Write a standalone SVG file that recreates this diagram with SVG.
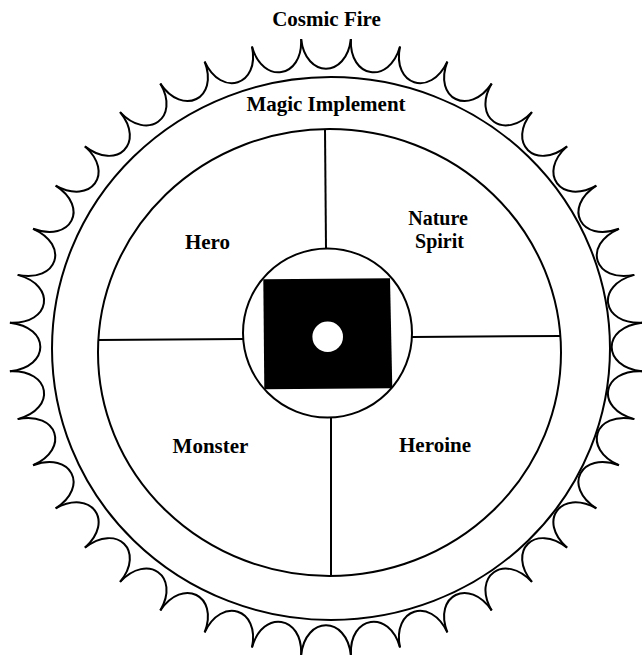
<svg xmlns="http://www.w3.org/2000/svg" xmlns:xlink="http://www.w3.org/1999/xlink" width="642" height="657" viewBox="0 0 642 657">
<style>
.ln{fill:none;stroke:#000;stroke-width:2;stroke-linejoin:round}
.lbl{font-family:"Liberation Serif","Times New Roman",serif;font-weight:bold;font-size:21px;fill:#000;text-anchor:middle}
</style>
<defs>
<path id="scallop" d="M-24.56,-312.03 C-20,-272 20,-272 24.56,-312.03"/>
</defs>
<rect width="642" height="657" fill="#fff"/>
<g id="cosmic-fire">
<g transform="translate(326,347) scale(1.013,0.987)" class="ln">
<use xlink:href="#scallop" transform="rotate(0)"/>
<use xlink:href="#scallop" transform="rotate(9)"/>
<use xlink:href="#scallop" transform="rotate(18)"/>
<use xlink:href="#scallop" transform="rotate(27)"/>
<use xlink:href="#scallop" transform="rotate(36)"/>
<use xlink:href="#scallop" transform="rotate(45)"/>
<use xlink:href="#scallop" transform="rotate(54)"/>
<use xlink:href="#scallop" transform="rotate(63)"/>
<use xlink:href="#scallop" transform="rotate(72)"/>
<use xlink:href="#scallop" transform="rotate(81)"/>
<use xlink:href="#scallop" transform="rotate(90)"/>
<use xlink:href="#scallop" transform="rotate(99)"/>
<use xlink:href="#scallop" transform="rotate(108)"/>
<use xlink:href="#scallop" transform="rotate(117)"/>
<use xlink:href="#scallop" transform="rotate(126)"/>
<use xlink:href="#scallop" transform="rotate(135)"/>
<use xlink:href="#scallop" transform="rotate(144)"/>
<use xlink:href="#scallop" transform="rotate(153)"/>
<use xlink:href="#scallop" transform="rotate(162)"/>
<use xlink:href="#scallop" transform="rotate(171)"/>
<use xlink:href="#scallop" transform="rotate(180)"/>
<use xlink:href="#scallop" transform="rotate(189)"/>
<use xlink:href="#scallop" transform="rotate(198)"/>
<use xlink:href="#scallop" transform="rotate(207)"/>
<use xlink:href="#scallop" transform="rotate(216)"/>
<use xlink:href="#scallop" transform="rotate(225)"/>
<use xlink:href="#scallop" transform="rotate(234)"/>
<use xlink:href="#scallop" transform="rotate(243)"/>
<use xlink:href="#scallop" transform="rotate(252)"/>
<use xlink:href="#scallop" transform="rotate(261)"/>
<use xlink:href="#scallop" transform="rotate(270)"/>
<use xlink:href="#scallop" transform="rotate(279)"/>
<use xlink:href="#scallop" transform="rotate(288)"/>
<use xlink:href="#scallop" transform="rotate(297)"/>
<use xlink:href="#scallop" transform="rotate(306)"/>
<use xlink:href="#scallop" transform="rotate(315)"/>
<use xlink:href="#scallop" transform="rotate(324)"/>
<use xlink:href="#scallop" transform="rotate(333)"/>
<use xlink:href="#scallop" transform="rotate(342)"/>
<use xlink:href="#scallop" transform="rotate(351)"/>
</g>
<text class="lbl" x="326.5" y="26">Cosmic Fire</text>
</g>
<g id="magic-implement">
<ellipse class="ln" cx="331" cy="348.5" rx="279" ry="271.5"/>
<text class="lbl" x="326" y="111">Magic Implement</text>
</g>
<g id="quadrants">
<ellipse class="ln" cx="329.5" cy="352.5" rx="231.5" ry="223.5"/>
</g>
<g id="connectors">
<line class="ln" x1="325" y1="129" x2="326" y2="249"/>
<line class="ln" x1="331" y1="417" x2="331" y2="576"/>
<line class="ln" x1="98" y1="340" x2="243" y2="339"/>
<line class="ln" x1="412" y1="337" x2="561" y2="336"/>
</g>
<g id="hero"><text class="lbl" x="207.5" y="249">Hero</text></g>
<g id="nature-spirit"><text class="lbl" x="438" y="225" style="font-size:20px">Nature</text><text class="lbl" x="439.5" y="248" style="font-size:20px">Spirit</text></g>
<g id="monster"><text class="lbl" x="210.5" y="453">Monster</text></g>
<g id="heroine"><text class="lbl" x="435" y="452">Heroine</text></g>
<g id="center">
<circle class="ln" cx="327.5" cy="333" r="84.5"/>
<polygon points="263.3,279.3 390,278.3 392.3,388.3 264.3,389.3" fill="#000"/>
<circle cx="327.7" cy="336.7" r="15.3" fill="#fff"/>
</g>
</svg>
